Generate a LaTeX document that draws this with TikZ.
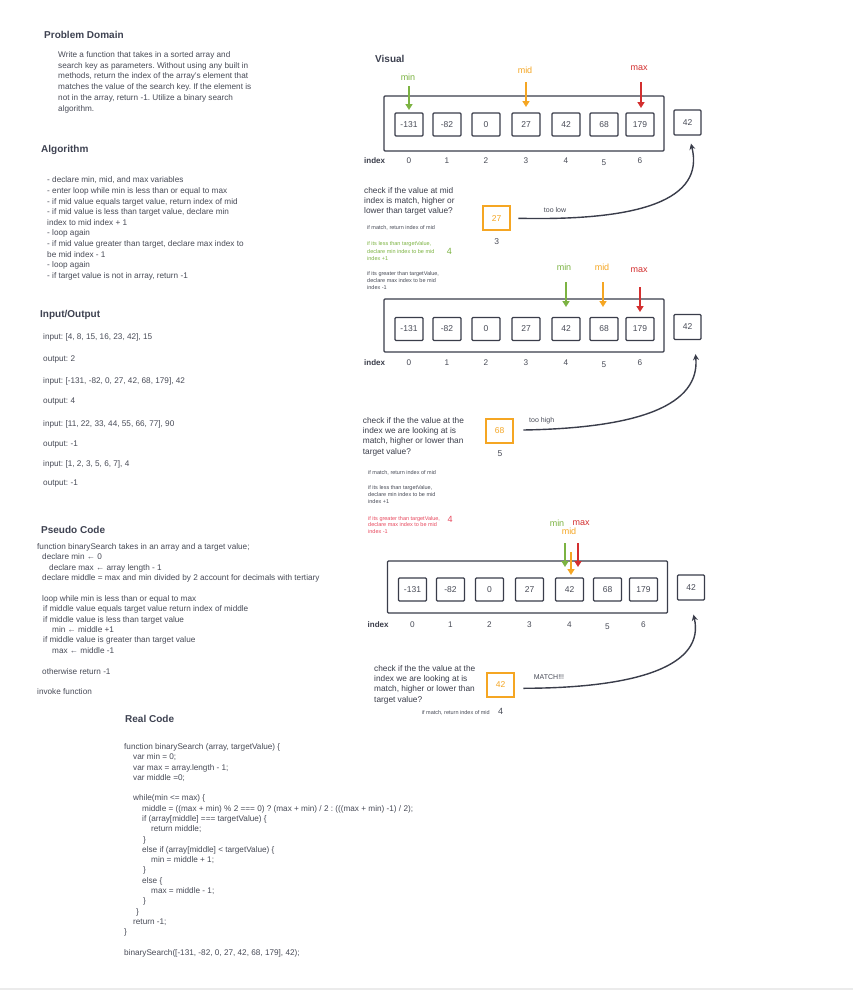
\documentclass[tikz,border=0pt]{standalone}
\usepackage{fontspec}
\setmainfont{Liberation Sans}
\frenchspacing
\usetikzlibrary{arrows.meta,positioning}
\definecolor{headgray}{HTML}{3E4251}
\definecolor{txtgray}{HTML}{484B57}
\definecolor{inkgray}{HTML}{3A3D4A}
\definecolor{mingreen}{HTML}{7CB342}
\definecolor{midorange}{HTML}{F5A623}
\definecolor{maxred}{HTML}{D32F2F}
\definecolor{notered}{HTML}{E84A5F}

\tikzset{
  heading/.style={anchor=west, inner sep=0, text=headgray, font=\fontsize{10}{12}\selectfont\bfseries},
  body/.style={anchor=north west, align=left, inner sep=0, text=txtgray, font=\fontsize{8.2}{#1}\selectfont},
  body/.default=10.6,
  ioline/.style={anchor=west, inner sep=0, text=txtgray, font=\fontsize{8.2}{10}\selectfont},
  check/.style={anchor=north west, align=left, inner sep=0, text=inkgray, font=\fontsize{8.3}{#1}\selectfont},
  note/.style={anchor=north west, align=left, inner sep=0, text=txtgray, font=\fontsize{5.5}{#1}\selectfont},
  note/.default=7,
  cell/.style={draw=inkgray, line width=1.3pt, rounded corners=1pt, minimum width=28pt, minimum height=23pt, inner sep=0, text=txtgray, font=\fontsize{8.5}{10}\selectfont},
  arraybox/.style={draw=inkgray, line width=1.3pt, rounded corners=1pt},
  idx/.style={inner sep=0, text=txtgray, font=\fontsize{8.2}{10}\selectfont},
  idxword/.style={anchor=west, inner sep=0, text=inkgray, font=\fontsize{8}{10}\selectfont\bfseries},
  ptrlabel/.style={inner sep=0, font=\fontsize{9}{10}\selectfont},
  ptr/.style={line width=1.7pt, -{Triangle[width=7pt,length=6pt]}},
  probe/.style={draw=midorange, line width=1.8pt, minimum width=27pt, minimum height=24pt, inner sep=0, text=midorange, font=\fontsize{8.5}{10}\selectfont},
  remark/.style={inner sep=0, text=txtgray, font=\fontsize{7}{8}\selectfont},
  swoop/.style={draw=inkgray, line width=1.4pt, -{Stealth[width=6pt,length=6pt]}},
}

\begin{document}
\begin{tikzpicture}[x=1pt,y=-1pt]
  \fill[white] (0,0) rectangle (853,994);
  \useasboundingbox (0,0) rectangle (853,994);
  \draw[black!8, line width=2pt] (0,989) -- (853,989); % bottom edge

  % ---- left column
  \node[heading] (probHead) at (44,35) {Problem Domain};
  \node[body=10.8] (probText) at (58,51.1) {Write a function that takes in a sorted array and\\
    search key as parameters. Without using any built in\\
    methods, return the index of the array's element that\\
    matches the value of the search key. If the element is\\
    not in the array, return -1. Utilize a binary search\\
    algorithm.};

  \node[heading] (algoHead) at (41,150) {Algorithm};
  \node[body] (algoText) at (47,176.8) {- declare min, mid, and max variables\\
    - enter loop while min is less than or equal to max\\
    - if mid value equals target value, return index of mid\\
    - if mid value is less than target value, declare min\\
    index to mid index + 1\\
    - loop again\\
    - if mid value greater than target, declare max index to\\
    be mid index - 1\\
    - loop again\\
    - if target value is not in array, return -1};

  \node[heading] (ioHead) at (40,315) {Input/Output};
  \foreach \y/\t [count=\i] in {337.7/{input: [4, 8, 15, 16, 23, 42], 15}, 359/{output: 2},
      381/{input: [-131, -82, 0, 27, 42, 68, 179], 42}, 401.7/{output: 4},
      424/{input: [11, 22, 33, 44, 55, 66, 77], 90}, 445/{output: -1},
      464/{input: [1, 2, 3, 5, 6, 7], 4}, 484/{output: -1}}{
    \node[ioline] (io\i) at (43,\y) {\t};
  }

  \node[heading] (pseudoHead) at (41,530) {Pseudo Code};
  \node[body=10.4] (pseudoText) at (37,543.1) {function binarySearch takes in an array and a target value;\\
    \hspace*{5pt}declare min ← 0\\
    \hspace*{12pt}declare max ← array length - 1\\
    \hspace*{5pt}declare middle = max and min divided by 2 account for decimals with tertiary\\[10.4pt]
    \hspace*{5pt}loop while min is less than or equal to max\\
    \hspace*{6pt}if middle value equals target value return index of middle\\
    \hspace*{6pt}if middle value is less than target value\\
    \hspace*{15pt}min ← middle +1\\
    \hspace*{6pt}if middle value is greater than target value\\
    \hspace*{15pt}max ← middle -1\\[10.4pt]
    \hspace*{5pt}otherwise return -1\\[10.4pt]
    invoke function};

  \node[heading] (codeHead) at (125,719) {Real Code};
  \node[body=10.28] (codeText) at (124,743.4) {function binarySearch (array, targetValue) \{\\
    \hspace*{9pt}var min = 0;\\
    \hspace*{9pt}var max = array.length - 1;\\
    \hspace*{9pt}var middle =0;\\[10.28pt]
    \hspace*{9pt}while(min <= max) \{\\
    \hspace*{18pt}middle = ((max + min) \% 2 === 0) ? (max + min) / 2 : (((max + min) -1) / 2);\\
    \hspace*{18pt}if (array[middle] === targetValue) \{\\
    \hspace*{27pt}return middle;\\
    \hspace*{19pt}\}\\
    \hspace*{18pt}else if (array[middle] < targetValue) \{\\
    \hspace*{27pt}min = middle + 1;\\
    \hspace*{19pt}\}\\
    \hspace*{18pt}else \{\\
    \hspace*{27pt}max = middle - 1;\\
    \hspace*{19pt}\}\\
    \hspace*{12pt}\}\\
    \hspace*{9pt}return -1;\\
    \}\\[10.28pt]
    binarySearch([-131, -82, 0, 27, 42, 68, 179], 42);};

  % ---- right column: the three passes
  \node[heading] (visHead) at (375,59) {Visual};

  \foreach \a/\dx/\cy/\ft/\fb/\iy in {A/0/124.5/96/151/161, B/0/329/299/352/363, C/3.5/589.5/561/613/625}{
    \draw[arraybox] (384+\dx,\ft) rectangle (664+\dx,\fb);
    \foreach \v/\cx/\dy [count=\i from 0] in {-131/409/0,-82/447/0,0/486/0,27/526/0,42/566/0,68/604/1.5,179/640/0}{
      \node[cell] (cell\a\i) at (\cx+\dx,\cy) {\v};
      \node[idx] (idx\a\i) at (\cx+\dx,\iy+\dy) {\i};
    }
    \node[idxword] (idxw\a) at (364+\dx,\iy) {index};
    \node[cell, minimum width=27pt, minimum height=25pt] (tgt\a) at (687.5+\dx,\cy-2) {42};
  }

  % pass 1
  \node[ptrlabel, text=mingreen] (minA) at (408,77) {min};
  \node[ptrlabel, text=midorange] (midA) at (525,70) {mid};
  \node[ptrlabel, text=maxred] (maxA) at (639,68) {max};
  \coordinate (minAtail) at (409,86);  \coordinate (minAtip) at (409,110);
  \coordinate (midAtail) at (526,82);  \coordinate (midAtip) at (526,107);
  \coordinate (maxAtail) at (641,82);  \coordinate (maxAtip) at (641,108);
  \draw[ptr, mingreen] (minAtail) -- (minAtip);
  \draw[ptr, midorange] (midAtail) -- (midAtip);
  \draw[ptr, maxred] (maxAtail) -- (maxAtip);

  \node[check=10] (checkA) at (364,187.1) {check if the value at mid\\
    index is match, higher or\\
    lower than target value?};
  \node[probe] (probeA) at (496.7,218.3) {27};
  \node[idx, font=\fontsize{8.5}{10}\selectfont] (probeAidx) at (496.7,241.7) {3};
  \node[remark] (lowA) at (555,210) {too low};
  \coordinate (swoopA) at (518.3,218.3);
  \draw[swoop] (swoopA) .. controls (640,221) and (705,200) .. ([xshift=3.5pt,yshift=-8pt]tgtA.south);
  \node[note, anchor=west] (noteA1) at (367,228.3) {if match, return index of mid};
  \node[note=7.3, text=mingreen] (noteA2) at (367,241.6) {if its less than targetValue,\\
    declare min index to be mid\\
    index +1};
  \node[ptrlabel, text=mingreen] (stepA) at (449.3,251) {4};
  \node[note] (noteA3) at (367,271.6) {if its greater than targetValue,\\
    declare max index to be mid\\
    index -1};

  % pass 2
  \node[ptrlabel, text=mingreen] (minB) at (564,267) {min};
  \node[ptrlabel, text=midorange] (midB) at (602,267) {mid};
  \node[ptrlabel, text=maxred] (maxB) at (639,270) {max};
  \coordinate (minBtail) at (566,282);  \coordinate (minBtip) at (566,307);
  \coordinate (midBtail) at (603,282);  \coordinate (midBtip) at (603,307);
  \coordinate (maxBtail) at (640,287);  \coordinate (maxBtip) at (640,312);
  \draw[ptr, mingreen] (minBtail) -- (minBtip);
  \draw[ptr, midorange] (midBtail) -- (midBtip);
  \draw[ptr, maxred] (maxBtail) -- (maxBtip);

  \node[check=10.33] (checkB) at (362.7,416.8) {check if the the value at the\\
    index we are looking at is\\
    match, higher or lower than\\
    target value?};
  \node[probe] (probeB) at (499.7,430.8) {68};
  \node[idx, font=\fontsize{8.5}{10}\selectfont] (probeBidx) at (500,453.3) {5};
  \node[remark] (highB) at (541.7,420.7) {too high};
  \coordinate (swoopB) at (523.3,430);
  \draw[swoop] (swoopB) .. controls (640,428) and (700,405) .. ([xshift=8pt,yshift=-14pt]tgtB.south);
  \node[note, anchor=west] (noteB1) at (368,473.3) {if match, return index of mid};
  \node[note] (noteB2) at (368,485.6) {if  its less than targetValue,\\
    declare min index to be mid\\
    index +1};
  \node[note=6.5, text=notered] (noteB3) at (368,516.3) {if its greater than targetValue,\\
    declare max index to be mid\\
    index -1};
  \node[ptrlabel, text=notered] (stepB) at (450,519) {4};

  % pass 3
  \node[ptrlabel, text=mingreen] (minC) at (557,523) {min};
  \node[ptrlabel, text=maxred] (maxC) at (581,523) {max};
  \node[ptrlabel, text=midorange] (midC) at (569,531) {mid};
  \coordinate (minCtail) at (565,543);  \coordinate (minCtip) at (565,567);
  \coordinate (midCtail) at (571,552);  \coordinate (midCtip) at (571,575);
  \coordinate (maxCtail) at (578,543);  \coordinate (maxCtip) at (578,567);
  \draw[ptr, mingreen] (minCtail) -- (minCtip);
  \draw[ptr, maxred] (maxCtail) -- (maxCtip);
  \draw[ptr, midorange] (midCtail) -- (midCtip);

  \node[check=10.33] (checkC) at (374,665.1) {check if the the value at the\\
    index we are looking at is\\
    match, higher or lower than\\
    target value?};
  \node[probe] (probeC) at (500.5,685) {42};
  \node[remark] (matchC) at (549,676.7) {MATCH!!!};
  \coordinate (swoopC) at (523.3,688.3);
  \draw[swoop] (swoopC) .. controls (640,688) and (705,665) .. ([xshift=2.5pt,yshift=-14pt]tgtC.south);
  \node[note, anchor=west] (noteC) at (421.7,713.3) {if match, return index of mid};
  \node[ptrlabel, text=txtgray] (stepC) at (500.7,711.7) {4};
\end{tikzpicture}
\end{document}
